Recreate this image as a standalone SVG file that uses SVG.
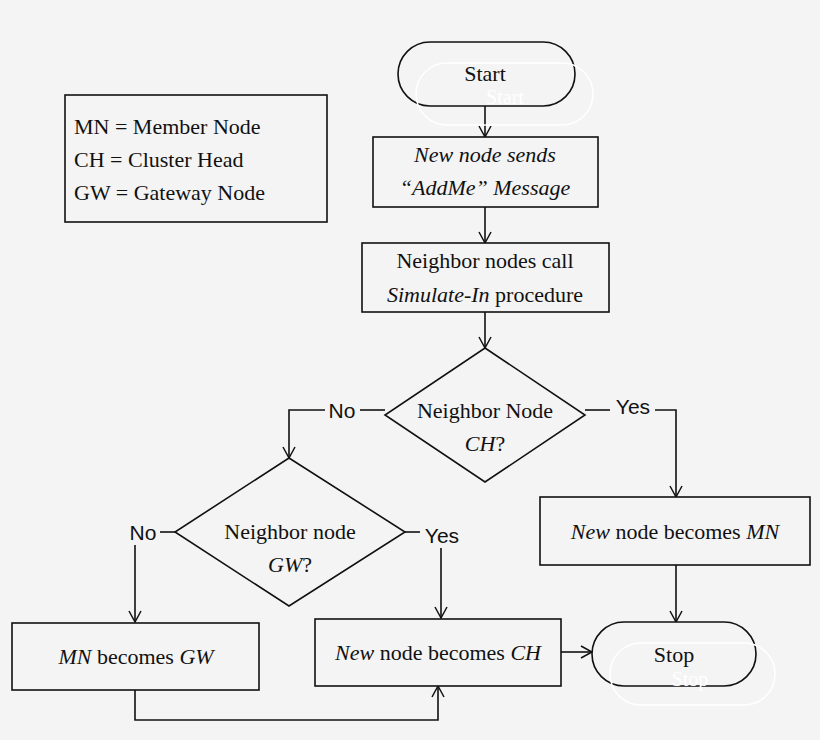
<svg xmlns="http://www.w3.org/2000/svg" width="820" height="740" viewBox="0 0 820 740">
<style>
.s{fill:none;stroke:#111;stroke-width:1.6}
.b{fill:#f4f4f4;stroke:#111;stroke-width:1.6}
.g{fill:none;stroke:#fff;stroke-width:1.5}
.t{font-family:"Liberation Serif",serif;font-size:22px;fill:#111;text-anchor:middle}
.gt{font-family:"Liberation Serif",serif;font-size:20px;fill:#fff;text-anchor:middle}
.l{font-family:"Liberation Sans",sans-serif;font-size:21px;fill:#111;text-anchor:middle}
.lg{font-family:"Liberation Serif",serif;font-size:22px;fill:#111}
</style>
<defs><marker id="a" markerWidth="14" markerHeight="14" refX="12" refY="7" orient="auto" markerUnits="userSpaceOnUse"><path d="M1,1 L12,7 L1,13" fill="none" stroke="#111" stroke-width="1.5"/></marker></defs>
<rect width="820" height="740" fill="#f4f4f4"/>
<g id="legend"><rect class="b" x="65" y="95" width="262" height="127"/>
<text class="lg" x="74" y="134">MN = Member Node</text><text class="lg" x="74" y="167">CH = Cluster Head</text><text class="lg" x="74" y="200">GW = Gateway Node</text></g>
<g id="connectors" class="s">
<line x1="485" y1="106" x2="485" y2="137" marker-end="url(#a)"/>
<line x1="485" y1="207" x2="485" y2="243" marker-end="url(#a)"/>
<line x1="485" y1="312" x2="485" y2="348" marker-end="url(#a)"/>
<polyline points="385,410 360,410"/>
<polyline points="325,410 289,410 289,458" marker-end="url(#a)"/>
<polyline points="585,410 610,410"/>
<polyline points="655,410 676,410 676,497" marker-end="url(#a)"/>
<polyline points="175,532 160,532"/>
<polyline points="135,545 135,622" marker-end="url(#a)"/>
<polyline points="405,532 420,532"/>
<polyline points="441,548 441,618" marker-end="url(#a)"/>
<line x1="561" y1="652" x2="592" y2="652" marker-end="url(#a)"/>
<line x1="676" y1="565" x2="676" y2="622" marker-end="url(#a)"/>
<polyline points="135,690 135,720 438,720 438,686" marker-end="url(#a)"/>
</g>
<g id="labels"><text class="l" x="342" y="418">No</text><text class="l" x="633" y="414">Yes</text><text class="l" x="143" y="540">No</text><text class="l" x="442" y="543">Yes</text></g>
<g id="start"><rect class="b" x="398" y="42" width="177" height="64" rx="32"/><rect class="g" x="416" y="63" width="177" height="62" rx="31"/>
<text class="gt" x="505" y="104">Start</text><text class="t" x="485" y="81">Start</text></g>
<g id="addme"><rect class="b" x="373" y="137" width="225" height="70"/>
<text class="t" x="485" y="162" font-style="italic">New node sends</text><text class="t" x="485" y="195" font-style="italic">“AddMe” Message</text></g>
<g id="simulate"><rect class="b" x="362" y="243" width="247" height="69"/>
<text class="t" x="485" y="268">Neighbor nodes call</text><text class="t" x="485" y="302"><tspan font-style="italic">Simulate-In</tspan> procedure</text></g>
<g id="dch"><polygon class="b" points="485,348 585,415 485,482 385,415"/>
<text class="t" x="485" y="418">Neighbor Node</text><text class="t" x="485" y="451"><tspan font-style="italic">CH</tspan>?</text></g>
<g id="dgw"><polygon class="b" points="289,458 405,532 289,606 175,532"/>
<text class="t" x="290" y="539">Neighbor node</text><text class="t" x="290" y="572"><tspan font-style="italic">GW</tspan>?</text></g>
<g id="mnbox"><rect class="b" x="540" y="497" width="270" height="68"/>
<text class="t" x="675" y="539"><tspan font-style="italic">New</tspan> node becomes <tspan font-style="italic">MN</tspan></text></g>
<g id="mngw"><rect class="b" x="12" y="623" width="247" height="67"/>
<text class="t" x="136" y="664"><tspan font-style="italic">MN</tspan> becomes <tspan font-style="italic">GW</tspan></text></g>
<g id="chbox"><rect class="b" x="315" y="619" width="246" height="67"/>
<text class="t" x="438" y="660"><tspan font-style="italic">New</tspan> node becomes <tspan font-style="italic">CH</tspan></text></g>
<g id="stop"><rect class="b" x="592" y="622" width="164" height="64" rx="32"/><rect class="g" x="610" y="643" width="165" height="62" rx="31"/>
<text class="gt" x="690" y="686">Stop</text><text class="t" x="674" y="662">Stop</text></g>
</svg>
